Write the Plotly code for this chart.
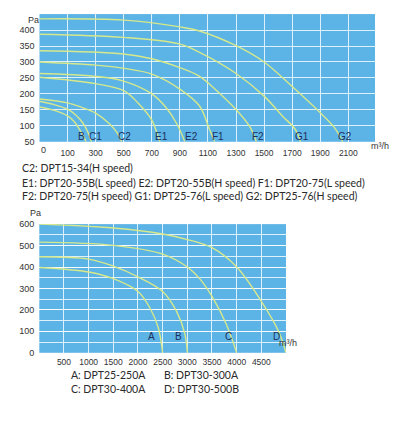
"""
Fan pressure / airflow curves for the DPT range (two panels).
Values read off the catalogue chart by eye.
"""

import plotly.graph_objects as go

W, H = 410, 433

# ---------- data ----------

# top panel: airflow (m3/h) -> static pressure (Pa)
TOP_NAMES = ["B", "C1", "C2", "E1", "E2", "F1", "F2", "G1", "G2"]
TOP_FLOW = {
    "B":  [0, 50, 100, 150, 190, 215, 232],
    "C1": [0, 50, 100, 160, 210, 245, 270],
    "C2": [0, 100, 200, 300, 400, 450, 485],
    "E1": [0, 300, 500, 600, 700, 735, 758],
    "E2": [0, 300, 500, 700, 800, 880, 935],
    "F1": [0, 300, 500, 700, 900, 1040, 1110, 1148],
    "F2": [0, 500, 700, 900, 1040, 1180, 1300, 1400, 1445],
    "G1": [0, 500, 900, 1040, 1300, 1500, 1630, 1720, 1760],
    "G2": [0, 500, 900, 1040, 1300, 1500, 1700, 1900, 2000, 2060],
}
TOP_PA = {
    "B":  [159, 149, 131, 112, 85, 66, 50],
    "C1": [177, 167, 152, 133, 108, 80, 50],
    "C2": [184, 172, 158, 140, 106, 80, 50],
    "E1": [252, 232, 210, 172, 118, 80, 50],
    "E2": [264, 255, 240, 200, 158, 105, 50],
    "F1": [300, 290, 280, 262, 215, 162, 90, 50],
    "F2": [335, 325, 310, 282, 255, 203, 151, 96, 50],
    "G1": [387, 377, 356, 330, 264, 193, 131, 90, 50],
    "G2": [435, 431, 410, 397, 351, 300, 223, 141, 95, 50],
}
TOP_LABEL_X = [197, 296, 502, 771, 985, 1168, 1459, 1771, 2076]
TOP_XTICKS = [100, 300, 500, 700, 900, 1100, 1300, 1500, 1700, 1900, 2100]
TOP_YTICKS = [50, 100, 150, 200, 250, 300, 350, 400]

TOP_NOTES = [
    "C2: DPT15-34(H speed)",
    "E1: DPT20-55B(L speed) E2: DPT20-55B(H speed) F1: DPT20-75(L speed)",
    "F2: DPT20-75(H speed) G1: DPT25-76(L speed) G2: DPT25-76(H speed)",
]

# bottom panel
BOT_NAMES = ["A", "B", "C", "D"]
BOT_FLOW = {
    "A": [0, 1000, 1500, 2000, 2240, 2410, 2500],
    "B": [0, 1000, 1500, 2000, 2500, 2780, 2950, 3000],
    "C": [0, 1500, 2500, 3000, 3250, 3500, 3790, 4000],
    "D": [0, 1500, 2500, 3000, 3500, 4000, 4500, 4850, 5000],
}
BOT_PA = {
    "A": [398, 377, 346, 286, 210, 118, 0],
    "B": [448, 437, 404, 354, 286, 194, 88, 0],
    "C": [516, 501, 460, 400, 346, 263, 133, 0],
    "D": [600, 582, 554, 528, 490, 400, 240, 100, 0],
}
BOT_LABEL_X = [2275, 2813, 3826, 4817]
BOT_XTICKS = [500, 1000, 1500, 2000, 2500, 3000, 3500, 4000, 4500]
BOT_YTICKS = [0, 100, 200, 300, 400, 500, 600]

BOT_NOTES = [("A: DPT25-250A", "B: DPT30-300A"), ("C: DPT30-400A", "D: DPT30-500B")]

# ---------- style ----------

BG = "#5cb3e6"
GRID = "rgba(255,255,255,0.8)"
CURVE = "#d5e88c"
LABEL = "#1d2f5c"
TXT = "#2a2a2a"
TICKFONT = dict(family="Liberation Sans", size=9, color="#333")
XTICKFONT = dict(family="Liberation Sans", size=8.5, color="#333")


def top_axis(v):
    # the catalogue axis squeezes 0..100 into the same width as one 200 step
    return 2 * v - 100 if v < 100 else v


def px(x):
    return x / W


def py(y):
    return 1 - y / H


fig = go.Figure()

for name in TOP_NAMES:
    fig.add_trace(go.Scatter(
        x=[top_axis(v) for v in TOP_FLOW[name]], y=TOP_PA[name],
        mode="lines", line=dict(color=CURVE, width=1.4, shape="spline", smoothing=1),
        xaxis="x", yaxis="y", showlegend=False, hoverinfo="skip"))

for name in BOT_NAMES:
    fig.add_trace(go.Scatter(
        x=BOT_FLOW[name], y=BOT_PA[name],
        mode="lines", line=dict(color=CURVE, width=1.4, shape="spline", smoothing=1),
        xaxis="x2", yaxis="y2", showlegend=False, hoverinfo="skip"))

ann = []
for name, x in zip(TOP_NAMES, TOP_LABEL_X):
    ann.append(dict(x=top_axis(x), y=65, xref="x", yref="y", text=name, showarrow=False,
                    font=dict(family="Liberation Sans", size=10, color=LABEL)))
for name, x in zip(BOT_NAMES, BOT_LABEL_X):
    ann.append(dict(x=x, y=76, xref="x2", yref="y2", text=name, showarrow=False,
                    font=dict(family="Liberation Sans", size=10, color=LABEL)))

# axis units and the squeezed "0"
for text, x, y in [("Pa", 26, 8), ("m³/h", 391, 137), ("0", 39, 148),
                   ("Pa", 28, 213), ("m³/h", 299, 353)]:
    ann.append(dict(x=px(x), y=py(y), xref="paper", yref="paper", text=text,
                    showarrow=False, font=TICKFONT))

for i, line in enumerate(TOP_NOTES):
    ann.append(dict(x=px(21), y=py([167, 182, 196][i]), xref="paper", yref="paper",
                    text=line, showarrow=False, xanchor="left", borderpad=0,
                    font=dict(family="Lato", size=10.5, color=TXT)))
for i, pair in enumerate(BOT_NOTES):
    for j, text in enumerate(pair):
        ann.append(dict(x=px([70, 163][j]), y=py([385.5, 400][i]), xref="paper",
                        yref="paper", text=text, showarrow=False, xanchor="left",
                        borderpad=0, font=dict(family="Lato", size=10.5, color=TXT)))

axis_common = dict(showgrid=True, gridcolor=GRID, gridwidth=1, zeroline=False,
                   showline=False, ticks="", fixedrange=True)

fig.update_layout(
    width=W, height=H, margin=dict(l=0, r=0, t=0, b=0),
    paper_bgcolor="white", plot_bgcolor=BG,
    annotations=ann,
    xaxis=dict(domain=[px(39.5), px(375)], range=[-100, 2290], anchor="y",
               tickvals=TOP_XTICKS, ticktext=[str(t) for t in TOP_XTICKS],
               tickfont=XTICKFONT, ticklabelstandoff=5, **axis_common),
    yaxis=dict(domain=[py(140), py(9.3)], range=[50, 450], anchor="x",
               tickvals=TOP_YTICKS, tickfont=TICKFONT, ticklabelstandoff=4, **axis_common),
    xaxis2=dict(domain=[px(39.3), px(286)], range=[0, 5000], anchor="y2",
                tickvals=BOT_XTICKS, tickfont=XTICKFONT, ticklabelstandoff=3, **axis_common),
    yaxis2=dict(domain=[py(356), py(224.3)], range=[0, 600], anchor="x2",
                tickvals=BOT_YTICKS, tickfont=TICKFONT, ticklabelstandoff=4,
                minor=dict(dtick=50, showgrid=True, gridcolor=GRID, gridwidth=1),
                **axis_common),
)

# the page's default body margin would shift the figure off its 410x433 frame
fig.write_html("out.html", config={"displayModeBar": False},
               post_script="document.body.style.margin='0';")
